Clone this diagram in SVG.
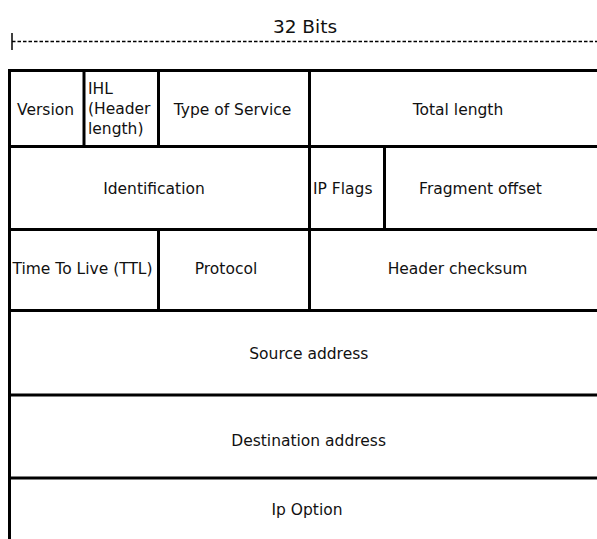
<svg xmlns="http://www.w3.org/2000/svg" width="597" height="539" viewBox="0 0 597 539">
  <style>
    .rule { stroke: #000; stroke-width: 3; fill: none; }
    .label { font-family: "DejaVu Sans", "Liberation Sans", sans-serif; font-size: 15.5px; fill: #111; }
    .mid { text-anchor: middle; }
  </style>

  <!-- width scale: 32 bits -->
  <g id="scale">
    <line x1="12" y1="33" x2="12" y2="50" stroke="#000" stroke-width="1.5"/>
    <line x1="12" y1="41.5" x2="597" y2="41.5" stroke="#000" stroke-width="1.3" stroke-dasharray="3.5 2"/>
    <text class="label mid" x="305" y="32.5" style="font-size:18.5px">32 Bits</text>
  </g>

  <!-- table grid -->
  <g id="connectors">
    <line class="rule" x1="9.5" y1="69" x2="9.5" y2="539"/>
    <line class="rule" x1="8" y1="70.5" x2="597" y2="70.5"/>
    <line class="rule" x1="8" y1="146.5" x2="597" y2="146.5"/>
    <line class="rule" x1="8" y1="229.5" x2="597" y2="229.5"/>
    <line class="rule" x1="8" y1="310.5" x2="597" y2="310.5"/>
    <line class="rule" x1="8" y1="395" x2="597" y2="395"/>
    <line class="rule" x1="8" y1="478" x2="597" y2="478"/>
    <!-- row 1 dividers -->
    <line class="rule" x1="84" y1="70.5" x2="84" y2="146.5"/>
    <line class="rule" x1="158.5" y1="70.5" x2="158.5" y2="146.5"/>
    <line class="rule" x1="309.5" y1="70.5" x2="309.5" y2="146.5"/>
    <!-- row 2 dividers -->
    <line class="rule" x1="309.5" y1="146.5" x2="309.5" y2="229.5"/>
    <line class="rule" x1="384.5" y1="146.5" x2="384.5" y2="228"/>
    <!-- row 3 dividers -->
    <line class="rule" x1="158.5" y1="229.5" x2="158.5" y2="310.5"/>
    <line class="rule" x1="309.5" y1="229.5" x2="309.5" y2="310.5"/>
  </g>

  <g id="version"><text class="label mid" x="45.5" y="114.5">Version</text></g>
  <g id="ihl">
    <text class="label" x="88" y="94">IHL</text>
    <text class="label" x="88" y="114">(Header</text>
    <text class="label" x="88" y="133.5">length)</text>
  </g>
  <g id="tos"><text class="label mid" x="232.5" y="114.5">Type of Service</text></g>
  <g id="total-length"><text class="label mid" x="458" y="114.5">Total length</text></g>

  <g id="identification"><text class="label mid" x="154" y="194">Identification</text></g>
  <g id="ip-flags"><text class="label" x="313" y="194">IP Flags</text></g>
  <g id="fragment-offset"><text class="label mid" x="480.5" y="193.5">Fragment offset</text></g>

  <g id="ttl"><text class="label mid" x="82.5" y="273.5">Time To Live (TTL)</text></g>
  <g id="protocol"><text class="label mid" x="226" y="273.5">Protocol</text></g>
  <g id="header-checksum"><text class="label mid" x="457.5" y="273.5">Header checksum</text></g>

  <g id="source-address"><text class="label mid" x="308.8" y="359">Source address</text></g>
  <g id="destination-address"><text class="label mid" x="308.6" y="446">Destination address</text></g>
  <g id="ip-option"><text class="label mid" x="307" y="515">Ip Option</text></g>
</svg>
